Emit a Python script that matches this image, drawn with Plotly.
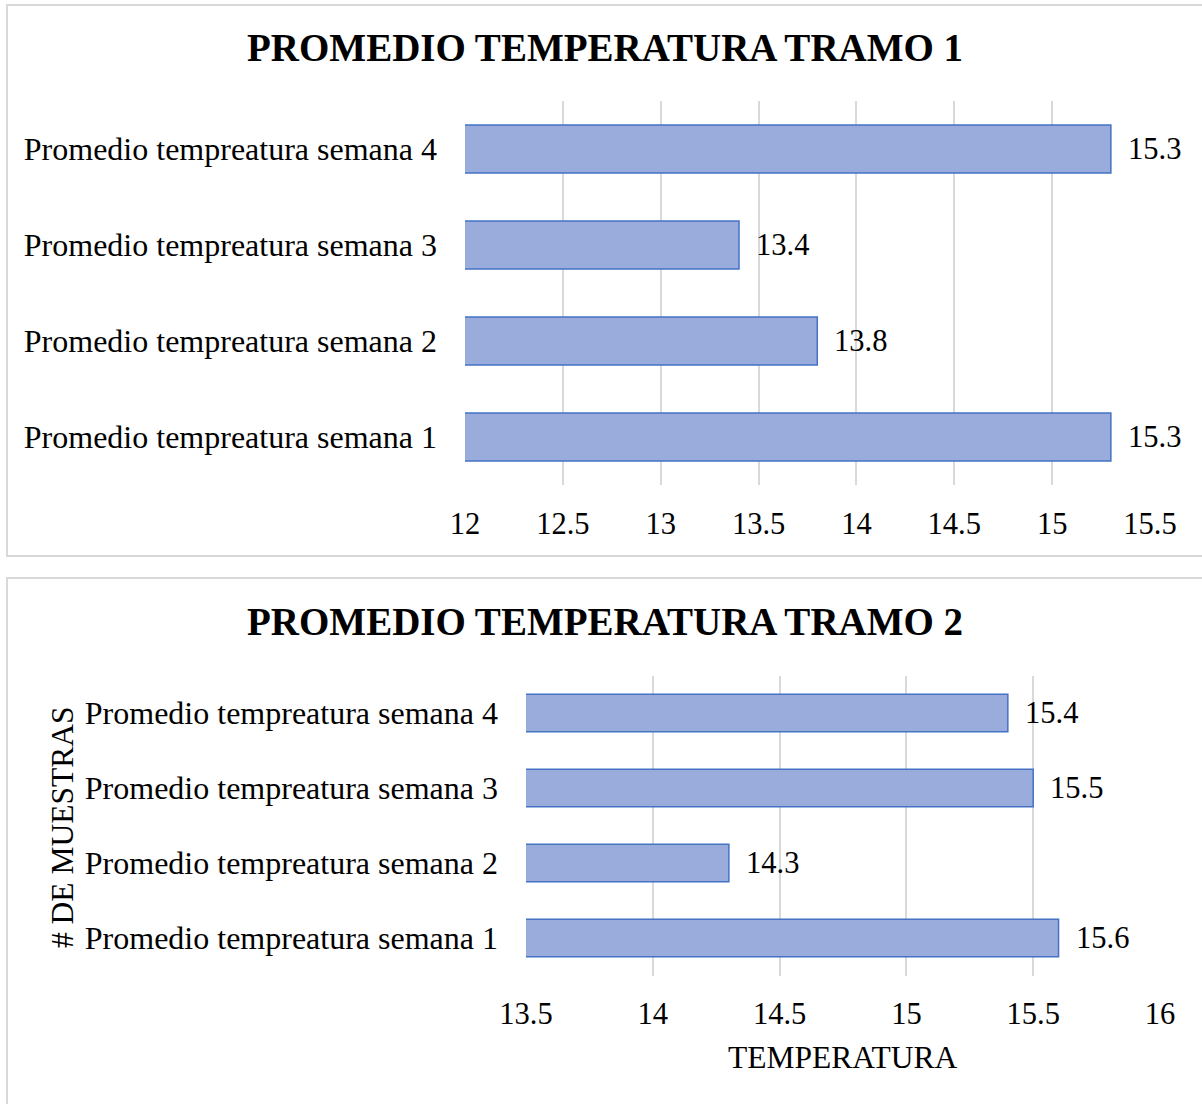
import plotly.graph_objects as go

W, H = 1202, 1104

categories = ["Promedio tempreatura semana 1", "Promedio tempreatura semana 2",
              "Promedio tempreatura semana 3", "Promedio tempreatura semana 4"]
tramo1_values = [15.3, 13.8, 13.4, 15.3]
tramo2_values = [15.6, 14.3, 15.5, 15.4]
tramo1_ticks = [12, 12.5, 13, 13.5, 14, 14.5, 15, 15.5]
tramo2_ticks = [13.5, 14, 14.5, 15, 15.5, 16]
title1 = "PROMEDIO TEMPERATURA TRAMO 1"
title2 = "PROMEDIO TEMPERATURA TRAMO 2"
xtitle2 = "TEMPERATURA"
ytitle2 = "# DE MUESTRAS"

FONT = "Liberation Serif"
FS = 30.5
FS_CAT = 32
FS_TITLE = 39
BAR_FILL = "#9aacdc"
BAR_LINE = "#4472c4"
GRID = "#d9d9d9"

def px_x(p):
    return p / W

def px_y(p):
    return 1 - p / H

fig = go.Figure()

fig.add_trace(go.Bar(
    x=tramo1_values, y=categories, orientation="h",
    marker=dict(color=BAR_FILL, line=dict(color=BAR_LINE, width=1.5)),
    width=0.5, xaxis="x", yaxis="y", showlegend=False, hoverinfo="x+y",
))
fig.add_trace(go.Bar(
    x=tramo2_values, y=categories, orientation="h",
    marker=dict(color=BAR_FILL, line=dict(color=BAR_LINE, width=1.5)),
    width=0.5, xaxis="x2", yaxis="y2", showlegend=False, hoverinfo="x+y",
))

annotations = []
for v, c in zip(tramo1_values, categories):
    annotations.append(dict(x=v, y=c, xref="x", yref="y", text=f"{v:.1f}",
                            showarrow=False, xanchor="left", xshift=15,
                            font=dict(family=FONT, size=FS, color="black")))
for v, c in zip(tramo2_values, categories):
    annotations.append(dict(x=v, y=c, xref="x2", yref="y2", text=f"{v:.1f}",
                            showarrow=False, xanchor="left", xshift=15,
                            font=dict(family=FONT, size=FS, color="black")))

annotations += [
    dict(x=px_x(605), y=px_y(48), xref="paper", yref="paper", text=f"<b>{title1}</b>",
         showarrow=False, xanchor="center", yanchor="middle",
         font=dict(family=FONT, size=FS_TITLE, color="black")),
    dict(x=px_x(605), y=px_y(621), xref="paper", yref="paper", text=f"<b>{title2}</b>",
         showarrow=False, xanchor="center", yanchor="middle",
         font=dict(family=FONT, size=FS_TITLE, color="black")),
    dict(x=px_x(843), y=px_y(1057), xref="paper", yref="paper", text=xtitle2,
         showarrow=False, xanchor="center", yanchor="middle",
         font=dict(family=FONT, size=31.5, color="black")),
    dict(x=px_x(62), y=px_y(827), xref="paper", yref="paper", text=ytitle2,
         showarrow=False, xanchor="center", yanchor="middle", textangle=-90,
         font=dict(family=FONT, size=31.5, color="black")),
]

shapes = [
    dict(type="rect", xref="paper", yref="paper",
         x0=px_x(7), x1=px_x(1215), y0=px_y(556), y1=px_y(5),
         line=dict(color=GRID, width=2), fillcolor="rgba(0,0,0,0)", layer="below"),
    dict(type="rect", xref="paper", yref="paper",
         x0=px_x(7), x1=px_x(1215), y0=px_y(1115), y1=px_y(578),
         line=dict(color=GRID, width=2), fillcolor="rgba(0,0,0,0)", layer="below"),
]

xaxis_common = dict(showgrid=True, gridcolor=GRID, gridwidth=2, zeroline=False,
                    showline=False, ticks="", automargin=False, ticklabelstandoff=17,
                    tickfont=dict(family=FONT, size=FS, color="black"))
yaxis_common = dict(showgrid=False, zeroline=False, showline=False, ticks="",
                    automargin=False, ticklabelstandoff=27, range=[-0.5, 3.5],
                    categoryorder="array", categoryarray=categories,
                    tickfont=dict(family=FONT, size=FS_CAT, color="black"))

fig.update_layout(
    width=W, height=H,
    margin=dict(l=0, r=0, t=0, b=0, pad=0),
    paper_bgcolor="white", plot_bgcolor="white",
    font=dict(family=FONT, color="black"),
    xaxis=dict(domain=[px_x(465), px_x(1150)], range=[12, 15.5],
               tickvals=tramo1_ticks, ticktext=[f"{t:g}" for t in tramo1_ticks],
               anchor="y", **xaxis_common),
    yaxis=dict(domain=[px_y(485), px_y(101)], anchor="x", **yaxis_common),
    xaxis2=dict(domain=[px_x(526), px_x(1160)], range=[13.5, 16],
                tickvals=tramo2_ticks, ticktext=[f"{t:g}" for t in tramo2_ticks],
                anchor="y2", **xaxis_common),
    yaxis2=dict(domain=[px_y(975.5), px_y(675.5)], anchor="x2", **yaxis_common),
    annotations=annotations,
    shapes=shapes,
    bargap=0.5,
)

fig.write_html("out.html")
